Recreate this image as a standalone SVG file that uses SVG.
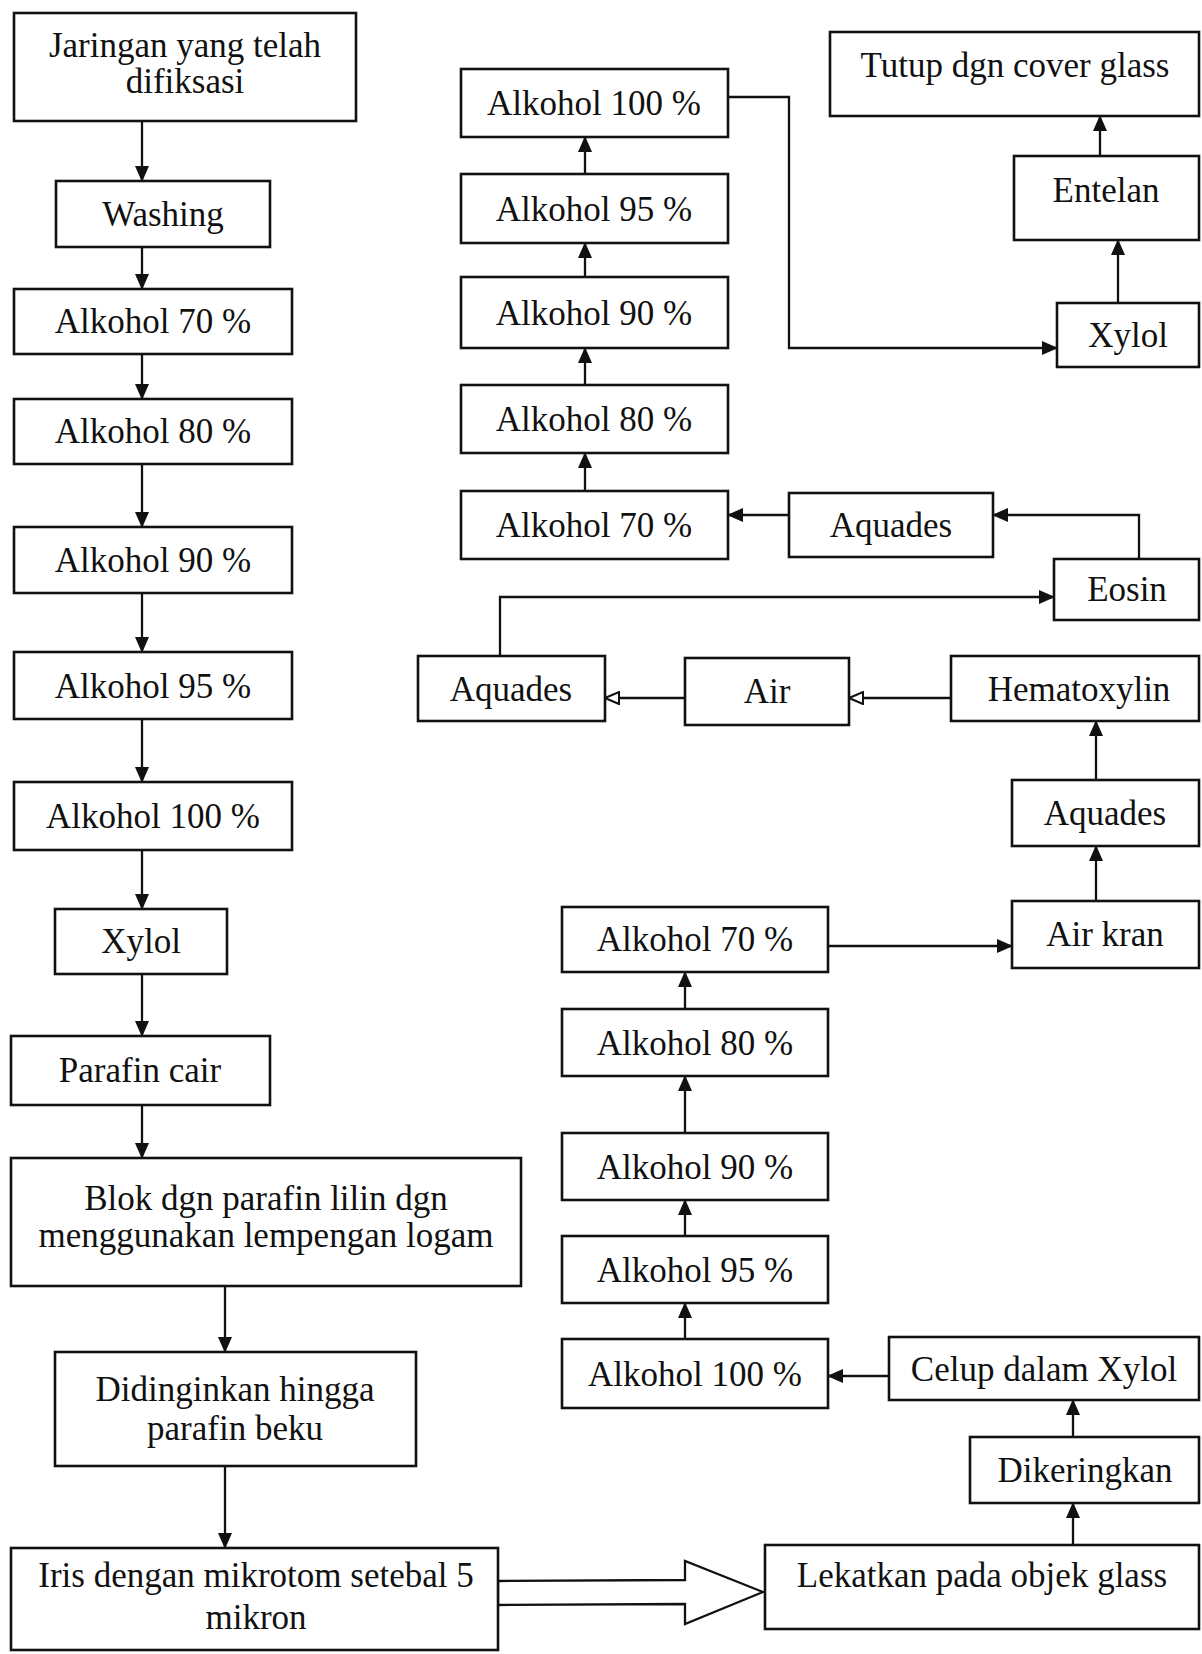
<svg xmlns="http://www.w3.org/2000/svg" width="1202" height="1654" viewBox="0 0 1202 1654">
<style>
.box{fill:#fff;stroke:#111;stroke-width:2.6}
.t{font-family:"Liberation Serif","Times New Roman",serif;font-size:35px;fill:#111;text-anchor:middle}
.c{fill:none;stroke:#111;stroke-width:2.3}
.a{marker-end:url(#ah)}
.o{marker-end:url(#oh)}
</style>
<defs>
<marker id="ah" viewBox="0 0 16 14" refX="15" refY="7" markerWidth="16" markerHeight="14" markerUnits="userSpaceOnUse" orient="auto">
<path d="M0,0 L16,7 L0,14 z" fill="#111"/>
</marker>
<marker id="oh" viewBox="0 0 16 14" refX="15" refY="7" markerWidth="16" markerHeight="14" markerUnits="userSpaceOnUse" orient="auto">
<path d="M1,1 L15,7 L1,13 z" fill="#fff" stroke="#111" stroke-width="2"/>
</marker>
</defs>
<rect width="1202" height="1654" fill="#fff"/>

<g id="connectors">
<line class="c a" x1="142" y1="121" x2="142" y2="181"/>
<line class="c a" x1="142" y1="247" x2="142" y2="289"/>
<line class="c a" x1="142" y1="354" x2="142" y2="399"/>
<line class="c a" x1="142" y1="464" x2="142" y2="527"/>
<line class="c a" x1="142" y1="593" x2="142" y2="652"/>
<line class="c a" x1="142" y1="719" x2="142" y2="782"/>
<line class="c a" x1="142" y1="850" x2="142" y2="909"/>
<line class="c a" x1="142" y1="974" x2="142" y2="1036"/>
<line class="c a" x1="142" y1="1105" x2="142" y2="1158"/>
<line class="c a" x1="225" y1="1286" x2="225" y2="1352"/>
<line class="c a" x1="225" y1="1466" x2="225" y2="1548"/>
<polygon points="498,1581 685,1580 685,1561 763,1592 685,1624 685,1604 498,1605" fill="#fff" stroke="#111" stroke-width="2.3"/>
<line class="c a" x1="1073" y1="1545" x2="1073" y2="1503"/>
<line class="c a" x1="1073" y1="1437" x2="1073" y2="1400"/>
<line class="c a" x1="889" y1="1376" x2="828" y2="1376"/>
<line class="c a" x1="685" y1="1339" x2="685" y2="1303"/>
<line class="c a" x1="685" y1="1236" x2="685" y2="1200"/>
<line class="c a" x1="685" y1="1133" x2="685" y2="1076"/>
<line class="c a" x1="685" y1="1009" x2="685" y2="972"/>
<line class="c a" x1="828" y1="946" x2="1012" y2="946"/>
<line class="c a" x1="1096" y1="901" x2="1096" y2="846"/>
<line class="c a" x1="1096" y1="780" x2="1096" y2="721"/>
<line class="c o" x1="951" y1="698" x2="849" y2="698"/>
<line class="c o" x1="685" y1="698" x2="605" y2="698"/>
<polyline class="c a" points="500,656 500,597 1054,597"/>
<polyline class="c a" points="1139,559 1139,515 993,515"/>
<line class="c a" x1="789" y1="515" x2="728" y2="515"/>
<line class="c a" x1="585" y1="491" x2="585" y2="453"/>
<line class="c a" x1="585" y1="385" x2="585" y2="348"/>
<line class="c a" x1="585" y1="277" x2="585" y2="243"/>
<line class="c a" x1="585" y1="174" x2="585" y2="137"/>
<polyline class="c a" points="728,97 789,97 789,348 1057,348"/>
<line class="c a" x1="1118" y1="303" x2="1118" y2="240"/>
<line class="c a" x1="1100" y1="156" x2="1100" y2="116"/>
</g>

<g id="n1"><rect class="box" x="14" y="13" width="342" height="108"/><text class="t" x="185" y="57">Jaringan yang telah</text><text class="t" x="185" y="93">difiksasi</text></g>
<g id="n2"><rect class="box" x="56" y="181" width="214" height="66"/><text class="t" x="163" y="226">Washing</text></g>
<g id="n3"><rect class="box" x="14" y="289" width="278" height="65"/><text class="t" x="153" y="333">Alkohol 70 %</text></g>
<g id="n4"><rect class="box" x="14" y="399" width="278" height="65"/><text class="t" x="153" y="443">Alkohol 80 %</text></g>
<g id="n5"><rect class="box" x="14" y="527" width="278" height="66"/><text class="t" x="153" y="572">Alkohol 90 %</text></g>
<g id="n6"><rect class="box" x="14" y="652" width="278" height="67"/><text class="t" x="153" y="698">Alkohol 95 %</text></g>
<g id="n7"><rect class="box" x="14" y="782" width="278" height="68"/><text class="t" x="153" y="828">Alkohol 100 %</text></g>
<g id="n8"><rect class="box" x="55" y="909" width="172" height="65"/><text class="t" x="141" y="953">Xylol</text></g>
<g id="n9"><rect class="box" x="11" y="1036" width="259" height="69"/><text class="t" x="140" y="1082">Parafin cair</text></g>
<g id="n10"><rect class="box" x="11" y="1158" width="510" height="128"/><text class="t" x="266" y="1210">Blok dgn parafin lilin dgn</text><text class="t" x="266" y="1247">menggunakan lempengan logam</text></g>
<g id="n11"><rect class="box" x="55" y="1352" width="361" height="114"/><text class="t" x="235" y="1401">Didinginkan hingga</text><text class="t" x="235" y="1440">parafin beku</text></g>
<g id="n12"><rect class="box" x="11" y="1548" width="487" height="102"/><text class="t" x="256" y="1587">Iris dengan mikrotom setebal 5</text><text class="t" x="256" y="1629">mikron</text></g>

<g id="m1"><rect class="box" x="461" y="69" width="267" height="68"/><text class="t" x="594" y="115">Alkohol 100 %</text></g>
<g id="m2"><rect class="box" x="461" y="174" width="267" height="69"/><text class="t" x="594" y="221">Alkohol 95 %</text></g>
<g id="m3"><rect class="box" x="461" y="277" width="267" height="71"/><text class="t" x="594" y="325">Alkohol 90 %</text></g>
<g id="m4"><rect class="box" x="461" y="385" width="267" height="68"/><text class="t" x="594" y="431">Alkohol 80 %</text></g>
<g id="m5"><rect class="box" x="461" y="491" width="267" height="68"/><text class="t" x="594" y="537">Alkohol 70 %</text></g>

<g id="r1"><rect class="box" x="830" y="32" width="369" height="84"/><text class="t" x="1015" y="77">Tutup dgn cover glass</text></g>
<g id="r2"><rect class="box" x="1014" y="156" width="185" height="84"/><text class="t" x="1106" y="202">Entelan</text></g>
<g id="r3"><rect class="box" x="1057" y="303" width="142" height="64"/><text class="t" x="1128" y="347">Xylol</text></g>
<g id="r4"><rect class="box" x="789" y="493" width="204" height="64"/><text class="t" x="891" y="537">Aquades</text></g>
<g id="r5"><rect class="box" x="1054" y="559" width="145" height="61"/><text class="t" x="1127" y="601">Eosin</text></g>
<g id="r6"><rect class="box" x="418" y="656" width="187" height="65"/><text class="t" x="511" y="701">Aquades</text></g>
<g id="r7"><rect class="box" x="685" y="658" width="164" height="67"/><text class="t" x="767" y="703">Air</text></g>
<g id="r8"><rect class="box" x="951" y="656" width="248" height="65"/><text class="t" x="1079" y="701">Hematoxylin</text></g>
<g id="r9"><rect class="box" x="1012" y="780" width="187" height="66"/><text class="t" x="1105" y="825">Aquades</text></g>
<g id="r10"><rect class="box" x="1012" y="901" width="187" height="67"/><text class="t" x="1105" y="946">Air kran</text></g>

<g id="b1"><rect class="box" x="562" y="907" width="266" height="65"/><text class="t" x="695" y="951">Alkohol 70 %</text></g>
<g id="b2"><rect class="box" x="562" y="1009" width="266" height="67"/><text class="t" x="695" y="1055">Alkohol 80 %</text></g>
<g id="b3"><rect class="box" x="562" y="1133" width="266" height="67"/><text class="t" x="695" y="1179">Alkohol 90 %</text></g>
<g id="b4"><rect class="box" x="562" y="1236" width="266" height="67"/><text class="t" x="695" y="1282">Alkohol 95 %</text></g>
<g id="b5"><rect class="box" x="562" y="1339" width="266" height="69"/><text class="t" x="695" y="1386">Alkohol 100 %</text></g>
<g id="b6"><rect class="box" x="889" y="1337" width="310" height="63"/><text class="t" x="1044" y="1381">Celup dalam Xylol</text></g>
<g id="b7"><rect class="box" x="970" y="1437" width="229" height="66"/><text class="t" x="1085" y="1482">Dikeringkan</text></g>
<g id="b8"><rect class="box" x="765" y="1545" width="434" height="84"/><text class="t" x="982" y="1587">Lekatkan pada objek glass</text></g>
</svg>
